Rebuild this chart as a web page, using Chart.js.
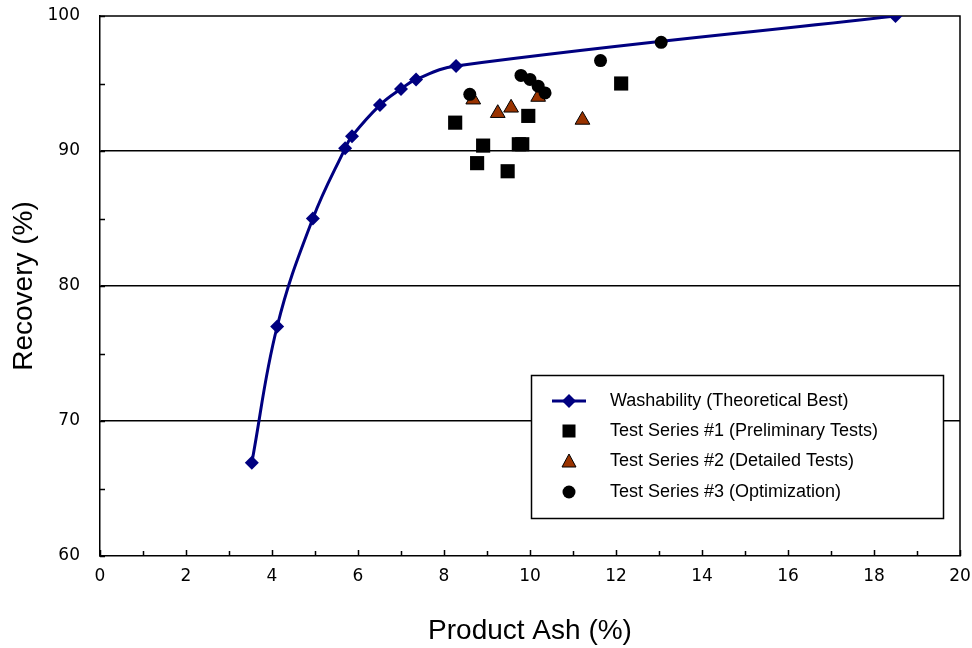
<!DOCTYPE html>
<html>
<head>
<meta charset="utf-8">
<script src="https://cdn.jsdelivr.net/npm/chart.js@4/dist/chart.umd.min.js"></script>
<style>
  body { margin: 0; background: #fff; }
</style>
</head>
<body>
<canvas id="canvas" width="972" height="648"></canvas>
<script>
// washability curve (theoretical best)
const washAsh = [3.53, 4.12, 4.95, 5.70, 5.86, 6.51, 7.00, 7.35, 8.28, 18.50];
const washRec = [66.9, 77.0, 85.0, 90.2, 91.1, 93.4, 94.6, 95.3, 96.3, 100.0];

// test series #1 (preliminary tests)
const s1Ash = [8.26, 8.91, 8.77, 9.48, 9.74, 9.82, 9.96, 12.12];
const s1Rec = [92.1, 90.4, 89.1, 88.5, 90.5, 90.5, 92.6, 95.0];

// test series #2 (detailed tests)
const s2Ash = [8.68, 9.25, 9.56, 10.19, 11.22];
const s2Rec = [93.8, 92.8, 93.2, 94.0, 92.3];

// test series #3 (optimization)
const s3Ash = [8.60, 9.79, 10.00, 10.19, 10.35, 11.64, 13.05];
const s3Rec = [94.2, 95.6, 95.3, 94.8, 94.3, 96.7, 98.05];

const seriesNames = [
  "Washability (Theoretical Best)",
  "Test Series #1 (Preliminary Tests)",
  "Test Series #2 (Detailed Tests)",
  "Test Series #3 (Optimization)",
];

const xTicks = [0, 2, 4, 6, 8, 10, 12, 14, 16, 18, 20];
const yTicks = [60, 70, 80, 90, 100];

const navy = "#000080";
const brown = "#993300";

function toPoints(xs, ys) {
  return xs.map((x, i) => ({ x: x, y: ys[i] }));
}

// inward tick marks + top/right frame
const framePlugin = {
  id: "frame",
  beforeDatasetsDraw(chart) {
    const { ctx, chartArea, scales } = chart;
    ctx.save();
    ctx.strokeStyle = "#000";
    ctx.lineWidth = 1.5;
    ctx.beginPath();
    for (let v = 0; v <= 20; v++) {
      const px = Math.round(scales.x.getPixelForValue(v)) + 0.5;
      const len = v % 2 === 0 ? 6 : 5;
      ctx.moveTo(px, chartArea.bottom);
      ctx.lineTo(px, chartArea.bottom - len);
    }
    for (let v = 60; v <= 100; v += 5) {
      const py = Math.round(scales.y.getPixelForValue(v)) + 0.5;
      ctx.moveTo(chartArea.left, py);
      ctx.lineTo(chartArea.left + 5, py);
    }
    ctx.stroke();
    ctx.beginPath();
    ctx.moveTo(chartArea.left, chartArea.top);
    ctx.lineTo(chartArea.right, chartArea.top);
    ctx.lineTo(chartArea.right, chartArea.bottom);
    ctx.stroke();
    ctx.restore();
  },
};

// legend box inside the plot
const legendPlugin = {
  id: "boxLegend",
  afterDatasetsDraw(chart) {
    const ctx = chart.ctx;
    const left = 531, top = 375, right = 943, bottom = 518;
    const symX = 569;
    const rows = [401, 431, 461, 492];
    ctx.save();
    ctx.fillStyle = "#fff";
    ctx.fillRect(left, top, right - left, bottom - top);
    ctx.strokeStyle = "#000";
    ctx.lineWidth = 1.5;
    ctx.strokeRect(left + 0.5, top + 0.5, right - left, bottom - top);

    // washability symbol
    ctx.strokeStyle = navy;
    ctx.lineWidth = 3;
    ctx.beginPath();
    ctx.moveTo(symX - 17, rows[0]);
    ctx.lineTo(symX + 17, rows[0]);
    ctx.stroke();
    ctx.fillStyle = navy;
    ctx.beginPath();
    ctx.moveTo(symX, rows[0] - 7);
    ctx.lineTo(symX + 7, rows[0]);
    ctx.lineTo(symX, rows[0] + 7);
    ctx.lineTo(symX - 7, rows[0]);
    ctx.closePath();
    ctx.fill();

    // square
    ctx.fillStyle = "#000";
    ctx.fillRect(symX - 6.5, rows[1] - 6.5, 13, 13);

    // triangle
    ctx.fillStyle = brown;
    ctx.strokeStyle = "#000";
    ctx.lineWidth = 1;
    ctx.beginPath();
    ctx.moveTo(symX, rows[2] - 7);
    ctx.lineTo(symX + 7, rows[2] + 6);
    ctx.lineTo(symX - 7, rows[2] + 6);
    ctx.closePath();
    ctx.fill();
    ctx.stroke();

    // circle
    ctx.fillStyle = "#000";
    ctx.beginPath();
    ctx.arc(symX, rows[3], 6.5, 0, Math.PI * 2);
    ctx.fill();

    ctx.fillStyle = "#000";
    ctx.font = "18px 'Liberation Sans', Arial, sans-serif";
    ctx.textBaseline = "middle";
    seriesNames.forEach((name, i) => {
      ctx.fillText(name, 610, rows[i]);
    });
    ctx.restore();
  },
};

const ctx = document.getElementById("canvas").getContext("2d");

new Chart(ctx, {
  type: "scatter",
  data: {
    datasets: [
      {
        label: seriesNames[0],
        data: toPoints(washAsh, washRec),
        showLine: true,
        borderColor: navy,
        backgroundColor: navy,
        borderWidth: 3,
        tension: 0.4,
        pointStyle: "rectRot",
        pointRadius: 7,
        pointBorderWidth: 0,
        order: 4,
      },
      {
        label: seriesNames[1],
        data: toPoints(s1Ash, s1Rec),
        backgroundColor: "#000",
        borderColor: "#000",
        pointStyle: "rect",
        pointRadius: 10,
        pointBorderWidth: 0,
        order: 3,
      },
      {
        label: seriesNames[2],
        data: toPoints(s2Ash, s2Rec),
        backgroundColor: brown,
        borderColor: "#000",
        pointStyle: "triangle",
        pointRadius: 8.5,
        pointBorderWidth: 1,
        order: 2,
      },
      {
        label: seriesNames[3],
        data: toPoints(s3Ash, s3Rec),
        backgroundColor: "#000",
        borderColor: "#000",
        pointStyle: "circle",
        pointRadius: 6.5,
        pointBorderWidth: 0,
        order: 1,
      },
    ],
  },
  options: {
    responsive: false,
    animation: false,
    layout: { padding: { left: 0, right: 12, top: 16, bottom: 0 } },
    plugins: {
      legend: { display: false },
      tooltip: { enabled: false },
    },
    scales: {
      x: {
        type: "linear",
        min: 0,
        max: 20,
        afterFit: (scale) => {
          scale.height = 92;
          scale.paddingLeft = 0;
          scale.paddingRight = 0;
        },
        afterBuildTicks: (scale) => { scale.ticks = xTicks.map((v) => ({ value: v })); },
        ticks: {
          color: "#000",
          padding: 10,
          font: { family: "'DejaVu Sans', sans-serif", size: 17 },
        },
        grid: { display: false, drawTicks: false },
        border: { display: true, color: "#000", width: 1.5 },
        title: {
          display: true,
          text: "Product Ash (%)",
          color: "#000",
          padding: { top: 0, bottom: 0 },
          font: { family: "'Liberation Sans', Arial, sans-serif", size: 28 },
        },
      },
      y: {
        type: "linear",
        min: 60,
        max: 100,
        afterFit: (scale) => {
          scale.width = 100;
          scale.paddingTop = 0;
          scale.paddingBottom = 0;
        },
        afterBuildTicks: (scale) => { scale.ticks = yTicks.map((v) => ({ value: v })); },
        ticks: {
          color: "#000",
          padding: 20,
          font: { family: "'DejaVu Sans', sans-serif", size: 17 },
        },
        grid: {
          drawTicks: false,
          lineWidth: 1.5,
          color: (c) => (c.tick && (c.tick.value === 60 || c.tick.value === 100) ? "rgba(0,0,0,0)" : "#000"),
        },
        border: { display: true, color: "#000", width: 1.5 },
        title: {
          display: true,
          text: "Recovery (%)",
          color: "#000",
          padding: { top: 7, bottom: 0 },
          font: { family: "'Liberation Sans', Arial, sans-serif", size: 28 },
        },
      },
    },
  },
  plugins: [framePlugin, legendPlugin],
});
</script>
</body>
</html>
